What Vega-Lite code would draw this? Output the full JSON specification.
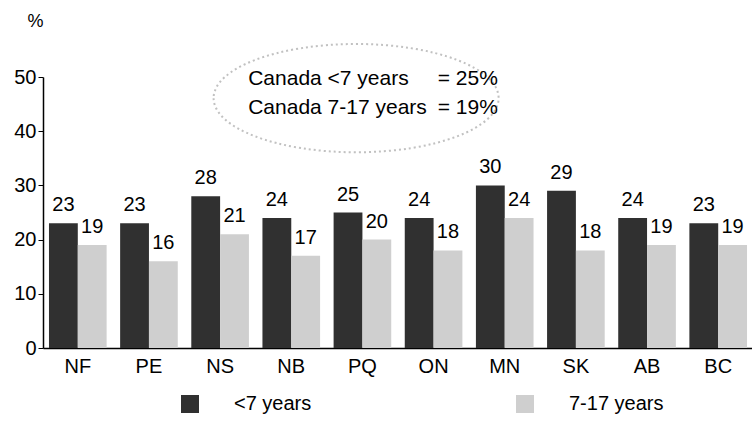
{
  "$schema": "https://vega.github.io/schema/vega-lite/v6.json",
  "autosize": {"type": "none"},
  "width": 710,
  "height": 271,
  "padding": {"left": 43, "top": 77, "right": 0, "bottom": 88},
  "background": "white",
  "config": {"font": "Liberation Sans", "view": {"stroke": null}},
  "datasets": {
    "bars": [
      {"province": "NF", "group": "<7 years", "value": 23},
      {"province": "NF", "group": "7-17 years", "value": 19},
      {"province": "PE", "group": "<7 years", "value": 23},
      {"province": "PE", "group": "7-17 years", "value": 16},
      {"province": "NS", "group": "<7 years", "value": 28},
      {"province": "NS", "group": "7-17 years", "value": 21},
      {"province": "NB", "group": "<7 years", "value": 24},
      {"province": "NB", "group": "7-17 years", "value": 17},
      {"province": "PQ", "group": "<7 years", "value": 25},
      {"province": "PQ", "group": "7-17 years", "value": 20},
      {"province": "ON", "group": "<7 years", "value": 24},
      {"province": "ON", "group": "7-17 years", "value": 18},
      {"province": "MN", "group": "<7 years", "value": 30},
      {"province": "MN", "group": "7-17 years", "value": 24},
      {"province": "SK", "group": "<7 years", "value": 29},
      {"province": "SK", "group": "7-17 years", "value": 18},
      {"province": "AB", "group": "<7 years", "value": 24},
      {"province": "AB", "group": "7-17 years", "value": 19},
      {"province": "BC", "group": "<7 years", "value": 23},
      {"province": "BC", "group": "7-17 years", "value": 19}
    ],
    "ellipse": [{"ex": 4.41, "ey": 46.1}],
    "notes": [
      {"nx": 2.89, "ny": 49.7, "t": "Canada <7 years"},
      {"nx": 5.56, "ny": 49.7, "t": "= 25%"},
      {"nx": 2.89, "ny": 44.2, "t": "Canada 7-17 years"},
      {"nx": 5.56, "ny": 44.2, "t": "= 19%"}
    ]
  },
  "resolve": {"scale": {"x": "independent"}},
  "layer": [
    {
      "data": {"name": "ellipse"},
      "mark": {
        "type": "point",
        "shape": "M-1,0A1,0.38,0,1,0,1,0A1,0.38,0,1,0,-1,0Z",
        "filled": false,
        "stroke": "#a8a8a8",
        "strokeWidth": 2,
        "strokeDash": [2, 3],
        "size": 81225,
        "clip": false
      },
      "encoding": {
        "x": {"field": "ex", "type": "quantitative", "scale": {"domain": [0, 10]}, "axis": null},
        "y": {"field": "ey", "type": "quantitative", "scale": {"domain": [0, 50]}}
      }
    },
    {
      "data": {"name": "notes"},
      "mark": {"type": "text", "align": "left", "baseline": "middle", "fontSize": 21, "color": "black", "clip": false},
      "encoding": {
        "x": {"field": "nx", "type": "quantitative", "scale": {"domain": [0, 10]}, "axis": null},
        "y": {"field": "ny", "type": "quantitative"},
        "text": {"field": "t"}
      }
    },
    {
      "data": {"name": "bars"},
      "layer": [
        {
          "mark": {"type": "bar"},
          "encoding": {
            "x": {
              "field": "province", "type": "nominal",
              "sort": ["NF", "PE", "NS", "NB", "PQ", "ON", "MN", "SK", "AB", "BC"],
              "scale": {"paddingInner": 0.19, "paddingOuter": 0.084},
              "axis": {"title": null, "labelAngle": 0, "labelFontSize": 20, "labelColor": "black", "ticks": false, "domainColor": "black", "domainWidth": 1.5, "labelPadding": 8}
            },
            "xOffset": {"field": "group", "type": "nominal", "sort": ["<7 years", "7-17 years"]},
            "y": {
              "field": "value", "type": "quantitative",
              "scale": {"domain": [0, 50]},
              "axis": {"values": [0, 10, 20, 30, 40, 50], "grid": false, "domainColor": "black", "domainWidth": 1.5, "tickColor": "black", "tickSize": 5, "labelFontSize": 20, "labelColor": "black", "labelPadding": 2, "title": "%", "titleAngle": 0, "titleX": -8, "titleY": -56, "titleFontSize": 18, "titleFontWeight": "normal", "titleAlign": "center", "titleBaseline": "middle", "titleColor": "black"}
            },
            "color": {
              "field": "group", "type": "nominal", "sort": ["<7 years", "7-17 years"],
              "scale": {"range": ["#303030", "#cfcfcf"]},
              "legend": {"title": null, "orient": "none", "legendX": 137, "legendY": 317, "direction": "horizontal", "symbolType": "square", "symbolSize": 324, "symbolStrokeWidth": 0, "labelFontSize": 20, "labelColor": "black", "labelOffset": 34, "columnPadding": 203}
            }
          }
        },
        {
          "mark": {"type": "text", "baseline": "bottom", "dy": -8, "fontSize": 20, "color": "black"},
          "encoding": {
            "x": {"field": "province", "type": "nominal", "sort": ["NF", "PE", "NS", "NB", "PQ", "ON", "MN", "SK", "AB", "BC"]},
            "xOffset": {"field": "group", "type": "nominal", "sort": ["<7 years", "7-17 years"]},
            "y": {"field": "value", "type": "quantitative"},
            "text": {"field": "value"}
          }
        }
      ]
    }
  ]
}
